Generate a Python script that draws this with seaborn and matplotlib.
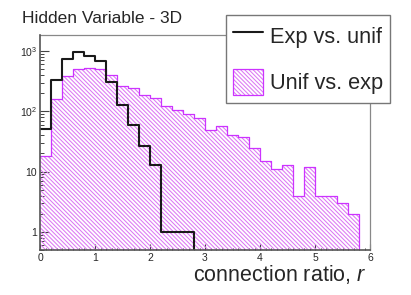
import numpy as np
import matplotlib
matplotlib.use("Agg")
import matplotlib.pyplot as plt
import matplotlib.colors as mcolors
import seaborn as sns
from matplotlib.lines import Line2D
from matplotlib.patches import Patch, PathPatch
from matplotlib.ticker import MultipleLocator, LogLocator, NullFormatter, FixedLocator, FixedFormatter

## data : bin counts (bins of 0.2 from 0 to 6)
bin_edges = [round(i * 0.2, 1) for i in range(31)]
exp_vs_unif = [51, 330, 730, 975, 845, 675, 308, 126, 60, 27,
               13, 1, 1, 1, 0, 0, 0, 0, 0, 0,
               0, 0, 0, 0, 0, 0, 0, 0, 0, 0]
unif_vs_exp = [18, 162, 385, 505, 530, 510, 398, 262, 245, 190,
               166, 125, 104, 89, 77, 49, 58, 40, 37, 25,
               15, 11, 13, 4, 12, 4, 4, 3, 2, 0]
labels = ["Exp vs. unif", "Unif vs. exp"]
title = "Hidden Variable - 3D"
xlabel = "connection ratio, $r$"
ytick_vals = [1, 10, 100, 1000]
ytick_text = ["1", "10", "$10^{2}$", "$10^{3}$"]

centers = [e + 0.1 for e in bin_edges[:-1]]

magenta = "#cc33ff"
hatch_col = "#dc78f4"
black = "#1a1a1a"
hatch = "\\" * 8


def paint_hatch(artist, color):
    if hasattr(artist, "set_hatchcolor"):
        artist.set_hatchcolor(color)
    artist._hatch_color = mcolors.to_rgba(color)


sns.set_theme(style="white")
plt.rcParams["font.family"] = ["Liberation Sans", "DejaVu Sans"]
plt.rcParams["mathtext.fontset"] = "custom"
plt.rcParams["mathtext.rm"] = "Liberation Sans"
plt.rcParams["mathtext.it"] = "Liberation Sans:italic"
plt.rcParams["hatch.linewidth"] = 0.75
plt.rcParams["hatch.color"] = hatch_col

fig = plt.figure(figsize=(4.11, 2.95), dpi=100)
ax = fig.add_axes([40 / 411, 45 / 295, 330 / 411, 215 / 295])

# hatched body: seaborn builds the step polygon, then it is redrawn as a patch
# (hatch colour on the collection would not take)
sns.histplot(x=centers, weights=unif_vs_exp, bins=bin_edges, element="step",
             fill=True, color=hatch_col, facecolor="none", edgecolor=hatch_col,
             linewidth=0, ax=ax)
for coll in list(ax.collections):
    paths = coll.get_paths()
    coll.remove()
    for path in paths:
        body = PathPatch(path, facecolor="none", edgecolor=hatch_col,
                         linewidth=0, hatch=hatch)
        paint_hatch(body, hatch_col)
        ax.add_patch(body)

# magenta outline
sns.histplot(x=centers, weights=unif_vs_exp, bins=bin_edges, element="step",
             fill=False, color=magenta, linewidth=0.9, ax=ax)

sns.histplot(x=centers, weights=exp_vs_unif, bins=bin_edges, element="step",
             fill=False, color=black, linewidth=1.5, ax=ax)

ax.set_yscale("log")
ax.set_xlim(0, 6)
ax.set_ylim(0.5, 1850)
ax.set_ylabel("")

# axes look (ROOT like)
for side in ["left", "bottom"]:
    ax.spines[side].set_color("#555555")
    ax.spines[side].set_linewidth(1.2)
    ax.spines[side].set_zorder(3)
for side in ["top", "right"]:
    ax.spines[side].set_color("#888888")
    ax.spines[side].set_linewidth(0.9)

ax.xaxis.set_major_locator(MultipleLocator(1))
ax.xaxis.set_minor_locator(MultipleLocator(0.1))
ax.yaxis.set_major_locator(FixedLocator(ytick_vals))
ax.yaxis.set_major_formatter(FixedFormatter(ytick_text))
ax.yaxis.set_minor_locator(LogLocator(base=10, subs=np.arange(2, 10)))
ax.yaxis.set_minor_formatter(NullFormatter())

ax.tick_params(axis="x", which="major", direction="in", length=4, width=0.8,
               color="#444444", labelsize=7.5, pad=2.5, bottom=True, top=False)
ax.tick_params(axis="x", which="minor", direction="in", length=1.8, width=0.7,
               color="#444444", bottom=True, top=False)
ax.tick_params(axis="y", which="major", direction="in", length=6.3, width=0.8,
               color="#444444", labelsize=7.5, pad=2, left=True, right=False)
ax.tick_params(axis="y", which="minor", direction="in", length=3, width=0.7,
               color="#444444", left=True, right=False)

ax.set_xlabel(xlabel, fontsize=15.5)
ax.xaxis.set_label_coords((367 - 40) / 330, (250 - 281) / 215)
ax.xaxis.label.set_horizontalalignment("right")
ax.xaxis.label.set_verticalalignment("baseline")

fig.text(21.7 / 411, 1 - 22.7 / 295, title, fontsize=12.5, va="baseline", ha="left")

handles = [Line2D([], [], color=black, linewidth=1.5),
           Patch(facecolor="white", edgecolor=magenta, hatch=hatch, linewidth=0.9)]
leg = ax.legend(handles, labels, loc="upper left",
                bbox_to_anchor=(226 / 411, 1 - 15 / 295), bbox_transform=fig.transFigure,
                fontsize=15.7, frameon=True, fancybox=False, framealpha=1,
                edgecolor="#777777", borderaxespad=0, borderpad=0.33,
                handlelength=1.35, handleheight=1.5, handletextpad=0.33,
                labelspacing=0.92)
leg.get_frame().set_linewidth(1.0)
for p in leg.get_patches():
    paint_hatch(p, hatch_col)

fig.savefig("out.png", dpi=100)
